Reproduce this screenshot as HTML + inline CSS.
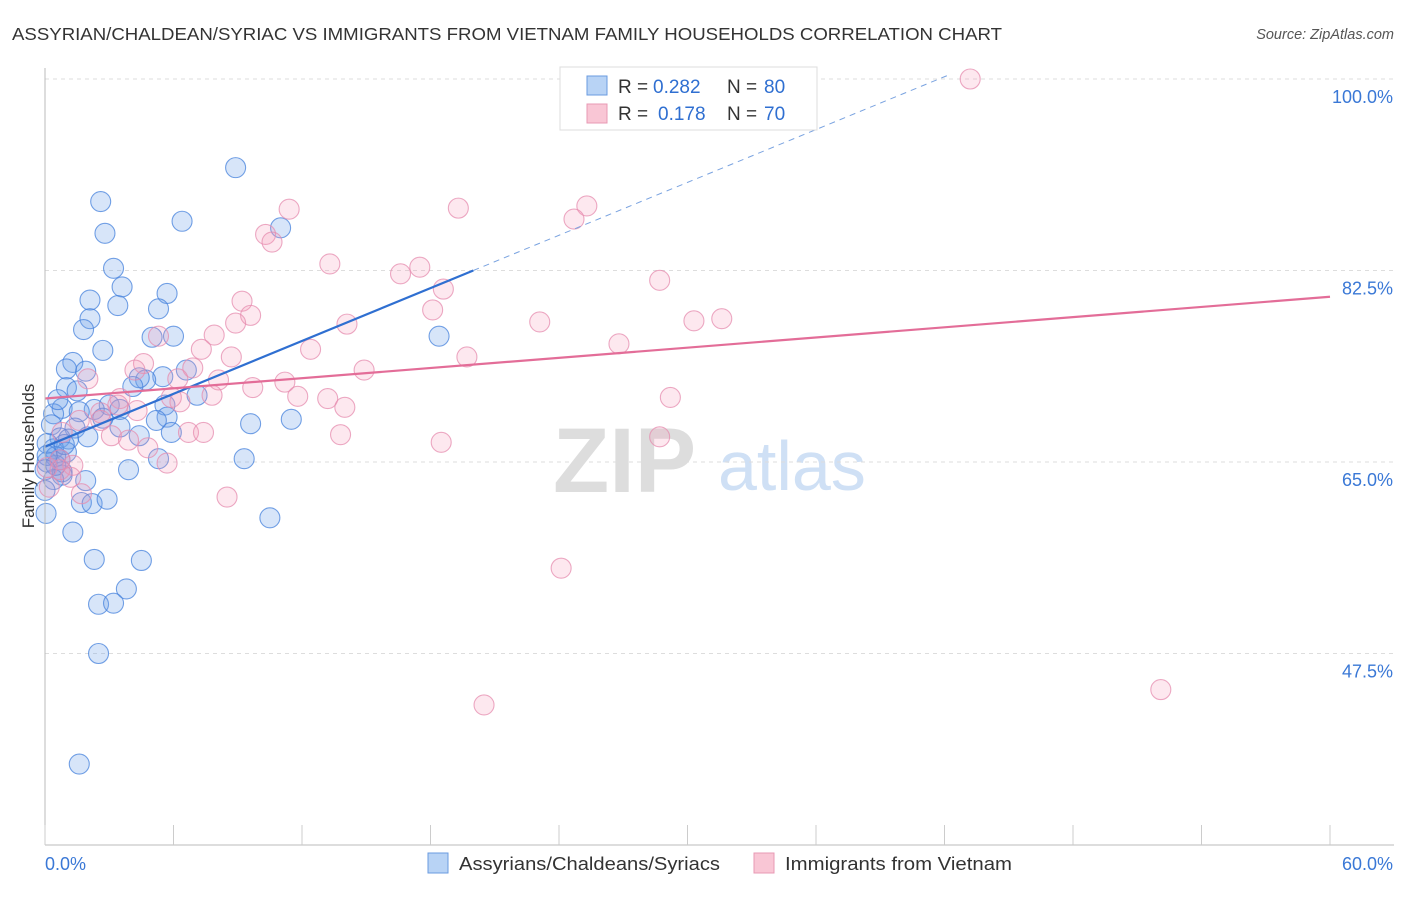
<!DOCTYPE html>
<html><head><meta charset="utf-8"><style>
body{margin:0;background:#fff;font-family:"Liberation Sans",sans-serif}
svg text{font-family:"Liberation Sans",sans-serif}
</style></head><body>
<svg id="chart" width="1406" height="892">
<text x="12" y="40" font-size="17.5" fill="#333" textLength="990" lengthAdjust="spacingAndGlyphs">ASSYRIAN/CHALDEAN/SYRIAC VS IMMIGRANTS FROM VIETNAM FAMILY HOUSEHOLDS CORRELATION CHART</text>
<text x="1394" y="39" font-size="14.5" fill="#555" font-style="italic" text-anchor="end">Source: ZipAtlas.com</text>
<text x="34" y="456" font-size="17" fill="#333" text-anchor="middle" transform="rotate(-90 34 456)">Family Households</text>
<g><text x="553" y="492" font-size="92" font-family="Liberation Serif" fill="#ddd" font-weight="bold">ZIP</text><text x="718" y="490" font-size="70" fill="#cfe0f5">atlas</text></g>
<g id="grid"></g><g id="pts"></g><g id="lines"></g><g id="axes"></g>
<g>
<rect x="560" y="67" width="257" height="63" fill="#fff" stroke="#ddd"/>
<rect x="587" y="76" width="20" height="19" fill="#b8d3f5" stroke="#6a9be0"/>
<rect x="587" y="104" width="20" height="19" fill="#f9c6d5" stroke="#e899b4"/>
<text x="618" y="93" font-size="19" fill="#333">R =</text><text x="653" y="93" font-size="19" fill="#2f6fd1">0.282</text>
<text x="727" y="93" font-size="19" fill="#333">N =</text><text x="764" y="93" font-size="19" fill="#2f6fd1">80</text>
<text x="618" y="120" font-size="19" fill="#333">R =</text><text x="658" y="120" font-size="19" fill="#2f6fd1">0.178</text>
<text x="727" y="120" font-size="19" fill="#333">N =</text><text x="764" y="120" font-size="19" fill="#2f6fd1">70</text>
</g>
<g>
<rect x="428" y="853" width="20" height="20" fill="#b8d3f5" stroke="#6a9be0"/>
<text x="459" y="870" font-size="18" fill="#333" textLength="261" lengthAdjust="spacingAndGlyphs">Assyrians/Chaldeans/Syriacs</text>
<rect x="754" y="853" width="20" height="20" fill="#f9c6d5" stroke="#e899b4"/>
<text x="785" y="870" font-size="18" fill="#333" textLength="227" lengthAdjust="spacingAndGlyphs">Immigrants from Vietnam</text>
</g>
</svg>
<script>
const yTicks=[100,82.5,65,47.5];
const yTickLabels=["100.0%","82.5%","65.0%","47.5%"];
const blueX=[8.9,2.6,2.8,6.4,11.0,3.2,3.6,5.7,2.1,3.4,5.3,2.1,1.8,5.0,6.0,18.4,2.7,1.3,1.0,1.9,5.5,6.6,4.7,4.4,4.1,1.0,1.5,7.1,3.0,5.6,2.3,0.8,1.6,0.4,5.7,5.2,11.5,9.6,3.5,0.3,1.4,4.4,5.9,2.0,0.7,1.1,0.1,0.4,1.0,0.5,5.3,9.3,0.1,0.8,3.9,1.9,0.8,0.4,1.7,2.2,2.9,10.5,0.05,1.3,2.3,4.5,3.8,2.5,3.2,2.5,1.6,0,0.5,0.7,0.1,2.7,3.5,0.9,0,0.6];
const blueY=[91.9,88.8,85.9,87.0,86.4,82.7,81.0,80.4,79.8,79.3,79.0,78.1,77.1,76.4,76.5,76.5,75.2,74.1,73.5,73.3,72.8,73.4,72.5,72.7,71.9,71.8,71.5,71.1,70.2,70.2,69.8,69.9,69.6,69.4,69.1,68.8,68.9,68.5,68.2,68.4,68.1,67.4,67.7,67.3,67.2,67.1,66.7,66.2,65.9,65.5,65.3,65.3,65.0,64.1,64.3,63.3,63.8,63.4,61.3,61.2,61.6,59.9,60.3,58.6,56.1,56.0,53.4,52.0,52.1,47.5,37.4,62.4,64.7,65.2,65.6,69.0,69.8,66.6,64.3,70.7];
const pinkX=[43.2,19.3,25.3,24.7,11.4,10.3,10.6,13.3,16.6,17.5,18.6,28.7,9.2,9.6,8.9,14.1,23.1,30.3,31.6,18.1,7.9,5.3,7.3,12.4,26.8,8.7,19.7,4.6,4.2,6.9,6.2,14.9,8.1,2.0,11.2,9.7,7.8,11.8,13.2,29.2,6.3,14.0,3.5,5.9,3.4,4.3,2.6,1.6,13.8,18.5,28.7,6.7,7.4,3.1,3.9,4.8,5.7,0.7,1.3,0.7,1.2,0.2,1.7,8.5,24.1,52.1,20.5,0.1,2.6,0.8];
const pinkY=[100,88.2,88.4,87.2,88.1,85.8,85.1,83.1,82.2,82.8,80.8,81.6,79.7,78.4,77.7,77.6,77.8,77.9,78.1,78.9,76.6,76.5,75.3,75.3,75.8,74.6,74.6,74.0,73.4,73.6,72.6,73.4,72.5,72.6,72.3,71.8,71.1,71.0,70.8,70.9,70.5,70.0,70.8,70.9,70.2,69.7,69.5,68.8,67.5,66.8,67.3,67.7,67.7,67.4,67.0,66.3,64.9,65.2,64.7,64.3,63.6,62.7,62.1,61.8,55.3,44.2,42.8,64.5,68.8,67.7];
const blueTrend=[66.4,82.5]; // y at x=0 and x=20
const pinkTrend=[70.8,80.1]; // y at x=0 and x=60
const NS="http://www.w3.org/2000/svg";
const X=v=>45+v/60*1285, Y=v=>79+(100-v)*191.5/17.5;
function mk(t,a,p){const e=document.createElementNS(NS,t);for(const k in a)e.setAttribute(k,a[k]);document.getElementById(p).appendChild(e);return e;}
yTicks.forEach((t,i)=>{
 const l=mk('line',{x1:45,x2:1394,y1:Y(t),y2:Y(t),stroke:'#ddd','stroke-dasharray':'4,4'},'grid');
 
 
 const tx=mk('text',{x:1393,y:Y(t)+24,'font-size':18,fill:'#3a78d6','text-anchor':'end'},'grid');tx.textContent=yTickLabels[i];
 
 
});
mk('line',{x1:45,x2:45,y1:68,y2:845,stroke:'#bbb'},'axes');
mk('line',{x1:45,x2:1394,y1:845,y2:845,stroke:'#bbb'},'axes');
for(let i=0;i<=10;i++){const t=mk('line',{x1:X(i*6),x2:X(i*6),y1:825,y2:845,stroke:'#ccc'},'axes');
 
 }
let a=mk('text',{x:45,y:870,'font-size':18,fill:'#3a78d6'},'axes');a.textContent='0.0%';


a=mk('text',{x:1393,y:870,'font-size':18,fill:'#3a78d6','text-anchor':'end'},'axes');a.textContent='60.0%';


blueX.forEach((v,i)=>{const c=mk('circle',{cx:X(v),cy:Y(blueY[i]),r:10,fill:'rgba(110,160,235,0.28)',stroke:'rgba(70,130,220,0.75)','stroke-width':1.1},'pts');
 
 });
pinkX.forEach((v,i)=>{const c=mk('circle',{cx:X(v),cy:Y(pinkY[i]),r:10,fill:'rgba(245,150,180,0.22)',stroke:'rgba(230,140,175,0.75)','stroke-width':1.1},'pts');
 
 });
const bs=(blueTrend[1]-blueTrend[0])/20;
let l=mk('line',{x1:X(0),y1:Y(blueTrend[0]),x2:X(20),y2:Y(blueTrend[1]),stroke:'#2f6fd1','stroke-width':2.2},'lines');


l=mk('line',{x1:X(20),y1:Y(blueTrend[1]),x2:X(42.3),y2:Y(blueTrend[0]+bs*42.3),stroke:'#7aa3e0','stroke-width':1,'stroke-dasharray':'6,5'},'lines');


l=mk('line',{x1:X(0),y1:Y(pinkTrend[0]),x2:X(60),y2:Y(pinkTrend[1]),stroke:'#e36d98','stroke-width':2.2},'lines');


</script>
</body></html>
